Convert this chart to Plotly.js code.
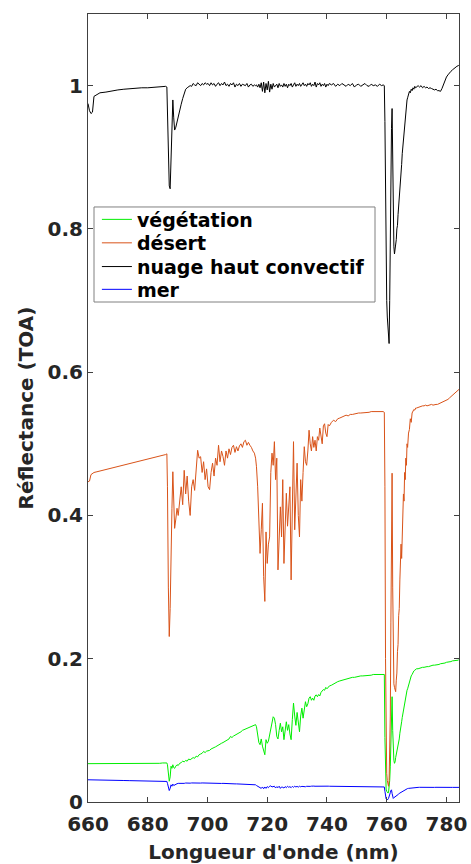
<!DOCTYPE html>
<html>
<head>
<meta charset="utf-8">
<script src="https://cdn.plot.ly/plotly-3.0.1.min.js"></script>
<style>html,body{margin:0;padding:0;background:#fff;}#chart{width:471px;height:864px;}</style>
</head>
<body>
<div id="chart"></div>
<script>
// Wavelength (nm)
const wavelength = [
660, 660.5, 661, 661.5, 662, 663, 664, 666, 668, 670, 672, 674, 676, 678, 680, 682, 684, 685, 686, 686.4,
686.6, 686.9, 687.2, 687.5, 687.8, 688.1, 688.4, 688.7, 689.0, 689.4, 689.8, 690.2, 690.7, 691.2, 691.7, 692.2, 692.7, 693.2, 693.7, 694.2, 694.7, 695.2, 695.7, 696.2, 696.7, 697.2, 697.7, 698.2, 698.7, 699.2, 699.7,
700.2, 700.7, 701.2, 701.7, 702.2, 702.7, 703.2, 703.7, 704.2, 704.7, 705.2, 705.7, 706.2, 706.7, 707.2, 707.7, 708.2, 708.7, 709.2, 709.7, 710.2, 710.7, 711.2, 711.7, 712.2, 712.7, 713.2, 713.7, 714.2, 714.7, 715.2, 715.7, 716.1,
716.4, 716.8, 717.2, 717.6, 718.0, 718.4, 718.8, 719.2, 719.6, 720.0, 720.4, 720.8, 721.2, 721.6, 722.0, 722.4, 722.8, 723.2, 723.6, 724.0, 724.4, 724.8, 725.2, 725.6, 726.0, 726.4, 726.8, 727.2, 727.6, 728.0, 728.4, 728.8, 729.2, 729.6, 730.0, 730.4, 730.8, 731.2, 731.6, 732.0, 732.4, 732.8, 733.2, 733.6, 734.0, 734.4, 734.8, 735.2, 735.6, 736.0, 736.4, 736.8, 737.2, 737.6, 738.0, 738.4, 738.8, 739.2, 739.6, 740.0, 740.4, 740.8,
741.5, 742.2, 742.9, 743.6, 744.3, 745.0, 745.7, 746.4, 747.1, 747.8, 748.5, 749.2, 749.9, 750.6, 751.3, 752.0, 752.7, 753.4, 754.1, 754.8, 755.5, 756.2, 756.9, 757.6, 758.3, 758.8, 759.2,
759.4, 759.6, 759.8, 760.0, 760.2, 760.4, 760.6, 760.8, 761.0, 761.2, 761.4, 761.6, 761.8, 762.0, 762.2, 762.4, 762.6, 762.8, 763.0, 763.2, 763.4, 763.6, 763.8, 764.0, 764.2, 764.4, 764.6, 764.8, 765.0, 765.2, 765.4, 765.6, 765.8, 766.0, 766.2, 766.4, 766.6, 766.8, 767.0, 767.3, 767.6, 767.9, 768.2, 768.5, 768.8, 769.1, 769.4, 769.7, 770.0,
770.5, 771, 771.5, 772, 772.5, 773, 773.5, 774, 774.5, 775, 775.5, 776, 776.5, 777, 777.5, 778, 778.5, 779, 779.5, 780, 780.5, 781, 781.5, 782, 782.5, 783, 783.5, 784, 784.2
];

const vegetation = [
0.0535, 0.0535, 0.054, 0.0535, 0.0535, 0.0535, 0.053, 0.053, 0.053, 0.0535, 0.053, 0.0535, 0.0535, 0.054, 0.054, 0.054, 0.054, 0.0545, 0.054, 0.0545,
0.052, 0.040, 0.029, 0.035, 0.050, 0.047, 0.052, 0.048, 0.047, 0.050, 0.052, 0.051, 0.054, 0.055, 0.057, 0.056, 0.058, 0.057, 0.060, 0.059, 0.061, 0.062, 0.061, 0.064, 0.063, 0.066, 0.067, 0.068, 0.0706, 0.069, 0.071,
0.0715, 0.072, 0.074, 0.0745, 0.076, 0.077, 0.0785, 0.079, 0.081, 0.082, 0.083, 0.084, 0.0855, 0.087, 0.088, 0.0915, 0.090, 0.092, 0.093, 0.094, 0.096, 0.097, 0.098, 0.100, 0.101, 0.102, 0.103, 0.104, 0.105, 0.106, 0.107, 0.108, 0.108,
0.105, 0.090, 0.083, 0.080, 0.088, 0.078, 0.072, 0.066, 0.087, 0.082, 0.085, 0.095, 0.105, 0.114, 0.119, 0.117, 0.108, 0.0915, 0.088, 0.100, 0.110, 0.098, 0.105, 0.087, 0.100, 0.112, 0.100, 0.108, 0.095, 0.087, 0.115, 0.138, 0.120, 0.107, 0.125, 0.110, 0.098, 0.120, 0.131, 0.117, 0.130, 0.140, 0.133, 0.137, 0.145, 0.147, 0.142, 0.145, 0.142, 0.148, 0.1496, 0.147, 0.150, 0.148, 0.153, 0.155, 0.157, 0.156, 0.160, 0.158, 0.161, 0.162,
0.163, 0.165, 0.167, 0.168, 0.169, 0.170, 0.171, 0.172, 0.173, 0.173, 0.174, 0.174, 0.175, 0.175, 0.176, 0.176, 0.176, 0.177, 0.177, 0.177, 0.178, 0.178, 0.178, 0.178, 0.178, 0.178, 0.178,
0.09, 0.03, 0.018, 0.015, 0.013, 0.0126, 0.013, 0.02, 0.03, 0.05, 0.08, 0.12, 0.147, 0.10, 0.07, 0.058, 0.054, 0.056, 0.062, 0.066, 0.072, 0.074, 0.078, 0.086, 0.088, 0.096, 0.100, 0.108, 0.112, 0.118, 0.123, 0.130, 0.133, 0.140, 0.142, 0.148, 0.150, 0.156, 0.158, 0.163, 0.168, 0.172, 0.176, 0.178, 0.181, 0.183, 0.184, 0.185, 0.186,
0.186, 0.187, 0.187, 0.188, 0.188, 0.189, 0.189, 0.189, 0.190, 0.190, 0.191, 0.191, 0.191, 0.192, 0.192, 0.193, 0.193, 0.194, 0.194, 0.195, 0.195, 0.196, 0.196, 0.197, 0.197, 0.197, 0.198, 0.198, 0.199
];

const desert = [
0.447, 0.448, 0.457, 0.459, 0.460, 0.461, 0.462, 0.464, 0.466, 0.468, 0.470, 0.472, 0.475, 0.477, 0.479, 0.481, 0.483, 0.484, 0.485, 0.486,
0.44, 0.30, 0.231, 0.27, 0.38, 0.41, 0.461, 0.40, 0.382, 0.395, 0.41, 0.40, 0.426, 0.44, 0.415, 0.463, 0.43, 0.455, 0.42, 0.40, 0.44, 0.45, 0.435, 0.46, 0.491, 0.48, 0.482, 0.46, 0.475, 0.45, 0.465,
0.44, 0.436, 0.46, 0.473, 0.455, 0.48, 0.47, 0.498, 0.475, 0.49, 0.482, 0.47, 0.49, 0.48, 0.493, 0.485, 0.495, 0.498, 0.488, 0.496, 0.49, 0.497, 0.5, 0.495, 0.503, 0.505, 0.498, 0.502, 0.498, 0.495, 0.49, 0.487, 0.48,
0.468, 0.44, 0.389, 0.347, 0.38, 0.417, 0.315, 0.28, 0.377, 0.333, 0.36, 0.37, 0.46, 0.487, 0.47, 0.503, 0.45, 0.48, 0.324, 0.38, 0.412, 0.37, 0.45, 0.333, 0.40, 0.431, 0.385, 0.41, 0.44, 0.31, 0.42, 0.503, 0.38, 0.44, 0.473, 0.40, 0.37, 0.45, 0.42, 0.46, 0.496, 0.475, 0.47, 0.49, 0.519, 0.50, 0.49, 0.51, 0.495, 0.505, 0.49, 0.51, 0.505, 0.522, 0.51, 0.50, 0.525, 0.528, 0.515, 0.51, 0.527, 0.525,
0.530, 0.533, 0.531, 0.535, 0.536, 0.537, 0.538, 0.540, 0.539, 0.541, 0.541, 0.542, 0.542, 0.543, 0.543, 0.543, 0.544, 0.544, 0.544, 0.545, 0.545, 0.545, 0.546, 0.545, 0.546, 0.545, 0.544,
0.44, 0.20, 0.08, 0.04, 0.03, 0.025, 0.022, 0.03, 0.06, 0.12, 0.25, 0.36, 0.459, 0.30, 0.20, 0.165, 0.16, 0.155, 0.154, 0.17, 0.18, 0.21, 0.22, 0.26, 0.27, 0.31, 0.33, 0.36, 0.34, 0.38, 0.40, 0.43, 0.42, 0.46, 0.45, 0.48, 0.47, 0.50, 0.495, 0.515, 0.52, 0.535, 0.53, 0.543, 0.545, 0.548, 0.547, 0.550, 0.550,
0.551, 0.552, 0.552, 0.553, 0.553, 0.554, 0.553, 0.554, 0.554, 0.555, 0.554, 0.555, 0.555, 0.555, 0.556, 0.556, 0.557, 0.558, 0.560, 0.561, 0.562, 0.564, 0.566, 0.567, 0.569, 0.571, 0.573, 0.575, 0.576
];

const cloud = [
0.975, 0.965, 0.961, 0.963, 0.985, 0.988, 0.990, 0.991, 0.993, 0.994, 0.995, 0.996, 0.996, 0.997, 0.997, 0.998, 0.998, 0.999, 0.999, 0.998,
0.96, 0.90, 0.86, 0.856, 0.90, 0.95, 0.980, 0.955, 0.938, 0.942, 0.950, 0.958, 0.966, 0.974, 0.982, 0.988, 0.995, 0.997, 0.998, 1.000, 0.999, 1.003, 1.001, 1.000, 1.004, 1.002, 1.000, 1.003, 1.001, 1.004, 1.002,
1.003, 1.000, 1.004, 1.001, 1.003, 0.999, 1.002, 1.004, 1.000, 1.003, 1.001, 1.005, 1.000, 1.002, 0.999, 1.003, 1.001, 1.004, 0.998, 1.002, 1.000, 1.003, 0.999, 1.002, 1.001, 1.000, 1.003, 0.998, 1.001, 1.002, 0.999, 1.001, 1.000,
1.001, 0.998, 1.002, 0.997, 1.004, 0.992, 1.005, 0.990, 1.003, 0.994, 1.006, 0.991, 1.002, 0.995, 1.003, 0.998, 1.000, 1.002, 0.997, 1.003, 0.999, 1.001, 0.998, 1.003, 0.999, 1.002, 0.997, 1.002, 1.000, 1.003, 0.998, 1.001, 1.004, 0.999, 1.002, 1.000, 1.003, 0.999, 1.001, 1.004, 1.000, 1.002, 0.999, 1.003, 1.001, 1.004, 0.999, 1.002, 1.000, 1.005, 0.998, 1.003, 1.001, 1.004, 0.999, 1.002, 1.000, 1.003, 0.998, 1.002, 1.000, 1.003,
1.001, 1.003, 0.999, 1.002, 1.000, 1.003, 1.001, 0.999, 1.002, 1.000, 1.003, 0.998, 1.001, 1.002, 0.999, 1.001, 1.003, 1.000, 0.999, 1.002, 1.000, 1.001, 0.999, 1.002, 1.000, 1.001, 1.000,
0.95, 0.82, 0.75, 0.70, 0.677, 0.66, 0.645, 0.640, 0.70, 0.80, 0.88, 0.94, 0.968, 0.88, 0.79, 0.775, 0.765, 0.77, 0.78, 0.785, 0.80, 0.805, 0.82, 0.83, 0.845, 0.86, 0.865, 0.88, 0.89, 0.905, 0.915, 0.93, 0.94, 0.95, 0.96, 0.966, 0.972, 0.98, 0.983, 0.988, 0.992, 0.990, 0.995, 0.993, 0.997, 0.995, 0.999, 0.997, 0.998,
1.000, 0.998, 1.000, 0.997, 0.999, 0.997, 0.998, 0.996, 0.997, 0.996, 0.995, 0.994, 0.995, 0.993, 0.993, 0.992, 0.996, 1.002, 1.008, 1.012, 1.015, 1.018, 1.020, 1.022, 1.024, 1.026, 1.027, 1.028, 1.029
];

const sea = [
0.031, 0.031, 0.031, 0.031, 0.031, 0.0308, 0.0308, 0.0306, 0.0302, 0.0302, 0.030, 0.0298, 0.0296, 0.0294, 0.029, 0.029, 0.0288, 0.0288, 0.0288, 0.0287,
0.026, 0.020, 0.016, 0.019, 0.024, 0.022, 0.025, 0.023, 0.024, 0.0255, 0.0255, 0.026, 0.0258, 0.026, 0.0262, 0.026, 0.0265, 0.0262, 0.0265, 0.0263, 0.0266, 0.0264, 0.0265, 0.0263, 0.0266, 0.0265, 0.0264, 0.0266, 0.0265, 0.0263, 0.0265,
0.0264, 0.0263, 0.0265, 0.0262, 0.0263, 0.0261, 0.0262, 0.026, 0.0261, 0.0259, 0.026, 0.0258, 0.0258, 0.0256, 0.0257, 0.0255, 0.0255, 0.0254, 0.0253, 0.0253, 0.0252, 0.0251, 0.0251, 0.025, 0.0249, 0.0249, 0.0248, 0.0247, 0.0247, 0.0246, 0.0245, 0.0244, 0.024,
0.023, 0.022, 0.021, 0.020, 0.019, 0.021, 0.0185, 0.021, 0.019, 0.0215, 0.020, 0.022, 0.0225, 0.021, 0.0215, 0.022, 0.0195, 0.0215, 0.020, 0.022, 0.019, 0.021, 0.0205, 0.0195, 0.0215, 0.020, 0.022, 0.0205, 0.0215, 0.020, 0.0218, 0.0205, 0.022, 0.021, 0.0218, 0.0208, 0.022, 0.0212, 0.0218, 0.0215, 0.022, 0.0213, 0.0219, 0.0216, 0.022, 0.0218, 0.0221, 0.0217, 0.0222, 0.022, 0.0221, 0.0222, 0.022, 0.0222, 0.0221, 0.0222, 0.022, 0.0222, 0.0221, 0.022, 0.0221, 0.022,
0.022, 0.0219, 0.0219, 0.0218, 0.0218, 0.0218, 0.0217, 0.0217, 0.0217, 0.0216, 0.0216, 0.0216, 0.0215, 0.0215, 0.0215, 0.0215, 0.0214, 0.0214, 0.0214, 0.0214, 0.0213, 0.0213, 0.0213, 0.0213, 0.0213, 0.0212, 0.021,
0.015, 0.008, 0.0045, 0.0035, 0.0032, 0.0035, 0.005, 0.007, 0.010, 0.013, 0.016, 0.017, 0.012, 0.006, 0.005, 0.006, 0.0065, 0.007, 0.008, 0.0085, 0.009, 0.0095, 0.0095, 0.011, 0.012, 0.0125, 0.013, 0.014, 0.0145, 0.0155, 0.016, 0.0165, 0.017, 0.0175, 0.0178, 0.018, 0.0182, 0.0185, 0.0188, 0.019, 0.0192, 0.0195, 0.0198, 0.020, 0.020, 0.0202, 0.0203, 0.0204, 0.0204,
0.0204, 0.0205, 0.0204, 0.0205, 0.0204, 0.0204, 0.0205, 0.0204, 0.0204, 0.0205, 0.0204, 0.0204, 0.0205, 0.0204, 0.0204, 0.0205, 0.0204, 0.0204, 0.0205, 0.0204, 0.0204, 0.0205, 0.0204, 0.0204, 0.0205, 0.0204, 0.0204, 0.0205, 0.0204
];

const seriesNames = ['végétation', 'désert', 'nuage haut convectif', 'mer'];
const seriesColors = ['#00ee00', '#d95319', '#000000', '#0000ff'];
const seriesValues = [vegetation, desert, cloud, sea];
const legendIds = ['legend', 'legend2', 'legend3', 'legend4'];
const legendRowY = [0.7392, 0.7094, 0.6793, 0.6504];

const xTickVals = [660, 680, 700, 720, 740, 760, 780];
const yTickVals = [0, 0.2, 0.4, 0.6, 0.8, 1];
const yTickText = ['0', '0.2', '0.4', '0.6', '0.8', '1'];

const traces = seriesValues.map((vals, i) => ({
  x: wavelength,
  y: vals,
  type: 'scatter',
  mode: 'lines',
  name: seriesNames[i],
  legend: legendIds[i],
  line: {color: seriesColors[i], width: 1}
}));

const axisFont = {family: 'DejaVu Sans', size: 20, weight: 'bold', color: '#262626'};
const legendFont = {family: 'DejaVu Sans', size: 19, weight: 'bold', color: '#000000'};

const layout = {
  width: 471,
  height: 864,
  margin: {l: 88, r: 12, t: 14, b: 62},
  paper_bgcolor: '#ffffff',
  plot_bgcolor: '#ffffff',
  showlegend: true,
  font: {family: 'DejaVu Sans', color: '#262626'},
  xaxis: {
    range: [660, 784.2],
    tickvals: xTickVals,
    ticks: 'inside',
    ticklen: 5,
    tickcolor: '#404040',
    showline: true,
    linecolor: '#404040',
    linewidth: 1,
    mirror: 'ticks',
    showgrid: false,
    zeroline: false,
    tickfont: axisFont,
    ticklabelstandoff: 4,
    title: {text: "Longueur d'onde (nm)", font: axisFont, standoff: 11}
  },
  yaxis: {
    range: [0, 1.1],
    tickvals: yTickVals,
    ticktext: yTickText,
    ticks: 'inside',
    ticklen: 5,
    tickcolor: '#404040',
    showline: true,
    linecolor: '#404040',
    linewidth: 1,
    mirror: 'ticks',
    showgrid: false,
    zeroline: false,
    tickfont: axisFont,
    title: {text: 'Réflectance (TOA)', font: axisFont, standoff: 8}
  },
  shapes: [{
    type: 'rect', xref: 'paper', yref: 'paper',
    x0: 0.0162, x1: 0.7736, y0: 0.6345, y1: 0.7551,
    line: {color: '#808080', width: 1},
    fillcolor: 'rgba(255,255,255,0)',
    layer: 'above'
  }]
};

legendIds.forEach((id, i) => {
  layout[id] = {
    x: 0.024,
    y: legendRowY[i],
    xanchor: 'left',
    yanchor: 'middle',
    bgcolor: 'rgba(255,255,255,0)',
    borderwidth: 0,
    font: legendFont
  };
});

Plotly.newPlot('chart', traces, layout, {displayModeBar: false, staticPlot: true});
</script>
</body>
</html>
